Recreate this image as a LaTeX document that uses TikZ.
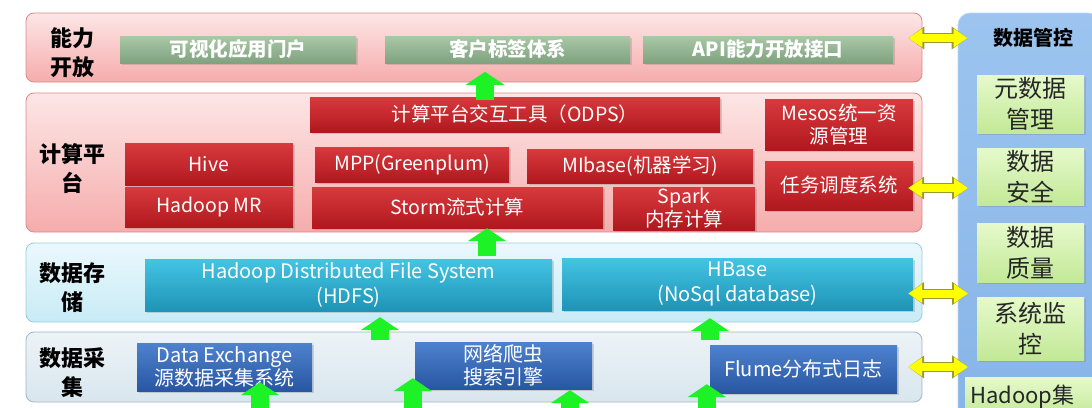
\documentclass[tikz,border=0pt]{standalone}
\usepackage{fontspec}
\setmainfont{Noto Sans CJK SC}
\usetikzlibrary{arrows.meta,calc,shadows}
\definecolor{pinktop}{HTML}{FDE6E6}
\definecolor{pinkbot}{HTML}{F6ACAC}
\definecolor{pinkline}{HTML}{D98A8A}
\definecolor{cyantop}{HTML}{EAF8FD}
\definecolor{cyanbot}{HTML}{C8EBF6}
\definecolor{cyanline}{HTML}{9CCBDD}
\definecolor{greytop}{HTML}{EDF3F7}
\definecolor{greybot}{HTML}{D8E6EE}
\definecolor{greyline}{HTML}{9EB5C4}
\definecolor{ctrltop}{HTML}{9CC4EF}
\definecolor{ctrlbot}{HTML}{86B4E8}
\definecolor{sagetop}{HTML}{A9C8A6}
\definecolor{sagebot}{HTML}{7FA27F}
\definecolor{redtop}{HTML}{D83A3D}
\definecolor{redbot}{HTML}{B0181E}
\definecolor{teeltop}{HTML}{44C4E4}
\definecolor{teelbot}{HTML}{1E94B6}
\definecolor{bluetop}{HTML}{4E82CE}
\definecolor{bluebot}{HTML}{2856A2}
\definecolor{limetop}{HTML}{E6F9CC}
\definecolor{limebot}{HTML}{C2E996}
\definecolor{upgreen}{HTML}{1CF225}
\definecolor{upedge}{HTML}{20A828}
\definecolor{linkyellow}{HTML}{FFFF00}
\definecolor{linkedge}{HTML}{9A9A30}
\tikzset{
layer/.style={rounded corners=8pt,inner sep=0pt,line width=0.8pt},
pinklayer/.style={layer,draw=pinkline,top color=pinktop,bottom color=pinkbot},
cyanlayer/.style={layer,draw=cyanline,top color=cyantop,bottom color=cyanbot},
greylayer/.style={layer,draw=greyline,top color=greytop,bottom color=greybot},
ctrllayer/.style={layer,rounded corners=12pt,draw=ctrltop!70!white,top color=ctrltop,bottom color=ctrlbot},
title/.style={align=center,font=\fontsize{22}{29}\selectfont\bfseries},
box/.style={inner sep=0pt,align=center,text=white,
    drop shadow={opacity=0.3,shadow xshift=1.5pt,shadow yshift=-1.5pt}},
sagebox/.style={box,top color=sagetop,bottom color=sagebot,
    font=\fontsize{19.5}{22}\selectfont\bfseries},
redbox/.style={box,top color=redtop,bottom color=redbot,
    font=\fontsize{19.5}{23}\selectfont},
teelbox/.style={box,top color=teeltop,bottom color=teelbot,
    font=\fontsize{20}{25}\selectfont},
bluebox/.style={box,top color=bluetop,bottom color=bluebot,
    font=\fontsize{20}{23}\selectfont},
limebox/.style={box,text=black!85,top color=limetop,bottom color=limebot,
    font=\fontsize{24}{31}\selectfont},
uparrow/.style={draw=upgreen,line width=18pt,-{Triangle[length=13pt,width=38pt]}},
yarrow/.style={draw=linkyellow,line width=8pt,
    {Triangle[length=14pt,width=18pt]}-{Triangle[length=14pt,width=18pt]},
    preaction={draw=linkedge,line width=10pt,
      arrows={Triangle[length=16pt,width=22pt]-Triangle[length=16pt,width=22pt]}}},
}

\begin{document}
\begin{tikzpicture}[x=1pt,y=-1pt]
    \useasboundingbox (0,0) rectangle (1092,407);

    % layers
    \node[pinklayer,minimum width=896pt,minimum height=69pt] (open) at (474,47.5) {};
    \node[pinklayer,minimum width=896pt,minimum height=139pt] (compute) at (474,162.5) {};
    \node[cyanlayer,minimum width=896pt,minimum height=79pt] (store) at (474,282.5) {};
    \node[greylayer,minimum width=896pt,minimum height=70pt] (collect) at (474,367) {};
    \node[ctrllayer,minimum width=142pt,minimum height=420pt] (control) at (1029,223) {};

    \node[title] (openlbl) at (72,52.5) {能力\\开放};
    \node[title] (computelbl) at (72,169) {计算平\\台};
    \node[title] (storelbl) at (72,288) {数据存\\储};
    \node[title] (collectlbl) at (72,372.5) {数据采\\集};
    \node[title,font=\fontsize{20}{24}\selectfont\bfseries] (ctrltitle) at (1033,38) {数据管控};

    % open layer
    \node[sagebox,minimum width=236pt,minimum height=27pt] (portal) at (238,49.5) {可视化应用门户};
    \node[sagebox,minimum width=245pt,minimum height=27pt] (tags) at (507.5,49.5) {客户标签体系};
    \node[sagebox,minimum width=250pt,minimum height=27pt] (api) at (768,49.5) {API能力开放接口};

    % compute layer
    \node[redbox,minimum width=410pt,minimum height=35pt] (odps) at (515,114.5) {计算平台交互工具（ODPS）};
    \node[redbox,minimum width=148pt,minimum height=51pt] (mesos) at (839,124.5) {Mesos统一资\\源管理};
    \node[redbox,minimum width=168pt,minimum height=42pt] (hive) at (209,164) {Hive};
    \node[redbox,minimum width=194pt,minimum height=35pt] (mpp) at (412,164.5) {MPP(Greenplum)};
    \node[redbox,minimum width=226pt,minimum height=34pt] (mibase) at (640,166) {MIbase(机器学习)};
    \node[redbox,minimum width=148pt,minimum height=49pt] (sched) at (839,185.5) {任务调度系统};
    \node[redbox,minimum width=168pt,minimum height=40pt] (mr) at (209,207) {Hadoop MR};
    \node[redbox,minimum width=291pt,minimum height=41pt] (storm) at (457.5,207.5) {Storm流式计算};
    \node[redbox,minimum width=142pt,minimum height=43pt] (spark) at (684,208.5) {Spark\\内存计算};

    % store layer
    \node[teelbox,minimum width=407pt,minimum height=52pt] (hdfs) at (348.5,285) {Hadoop Distributed File System\\(HDFS)};
    \node[teelbox,minimum width=351pt,minimum height=52pt] (hbase) at (737.5,284) {HBase\\(NoSql database)};

    % collect layer
    \node[bluebox,minimum width=175pt,minimum height=48pt] (dex) at (224.5,367) {Data Exchange\\源数据采集系统};
    \node[bluebox,minimum width=177pt,minimum height=47pt] (crawl) at (503.5,365.5) {网络爬虫\\搜索引擎};
    \node[bluebox,minimum width=187pt,minimum height=48pt] (flume) at (803.5,369) {Flume分布式日志};

    % control column
    \node[limebox,minimum width=107pt,minimum height=58pt] (meta) at (1030.5,104) {元数据\\管理};
    \node[limebox,minimum width=107pt,minimum height=57pt] (safe) at (1030.5,176.5) {数据\\安全};
    \node[limebox,minimum width=107pt,minimum height=59pt] (quality) at (1030.5,252.5) {数据\\质量};
    \node[limebox,minimum width=107pt,minimum height=63pt] (monitor) at (1030.5,328.5) {系统监\\控};
    \node[limebox,anchor=north west,minimum width=150pt,minimum height=40pt,
        text width=140pt,align=left,font=\fontsize{22}{26}\selectfont] (hadoop) at (965,377) {Hadoop集};

    % flow upwards
    \draw[uparrow] ([xshift=-30pt,yshift=-3pt]odps.north) -- ([xshift=-30pt,yshift=25pt]odps.north);
    \draw[uparrow] ([xshift=29.5pt,yshift=-28pt]storm.south) -- ([xshift=29.5pt]storm.south);
    \draw[uparrow] ([xshift=31.5pt,yshift=-29pt]hdfs.south) -- ([xshift=31.5pt,yshift=-6pt]hdfs.south);
    \draw[uparrow] ([xshift=-27.5pt,yshift=-30pt]hbase.south) -- ([xshift=-27.5pt,yshift=-8pt]hbase.south);
    \draw[uparrow] ([xshift=35.5pt,yshift=-30pt]dex.south) -- ([xshift=35.5pt,yshift=9pt]dex.south);
    \draw[uparrow] ([xshift=-2pt,yshift=-30pt]crawl.south west) -- ([xshift=-2pt,yshift=11pt]crawl.south west);
    \draw[uparrow] ([xshift=66.5pt,yshift=-30pt]crawl.south) -- ([xshift=66.5pt,yshift=-1pt]crawl.south);
    \draw[uparrow] ([xshift=-3pt,yshift=-30pt]flume.south west) -- ([xshift=-3pt,yshift=9pt]flume.south west);

    % links to control
    \draw[yarrow] ([xshift=-14pt]open.east |- ctrltitle) -- ([xshift=10pt]control.west |- ctrltitle);
    \draw[yarrow] ([xshift=-5pt,yshift=-2.5pt]sched.east) -- ([xshift=55pt,yshift=-2.5pt]sched.east);
    \draw[yarrow] ([xshift=-5pt,yshift=-9.5pt]hbase.east) -- ([xshift=55pt,yshift=-9.5pt]hbase.east);
    \draw[yarrow] ([xshift=11pt,yshift=2pt]flume.east) -- ([xshift=71pt,yshift=2pt]flume.east);
\end{tikzpicture}
\end{document}
